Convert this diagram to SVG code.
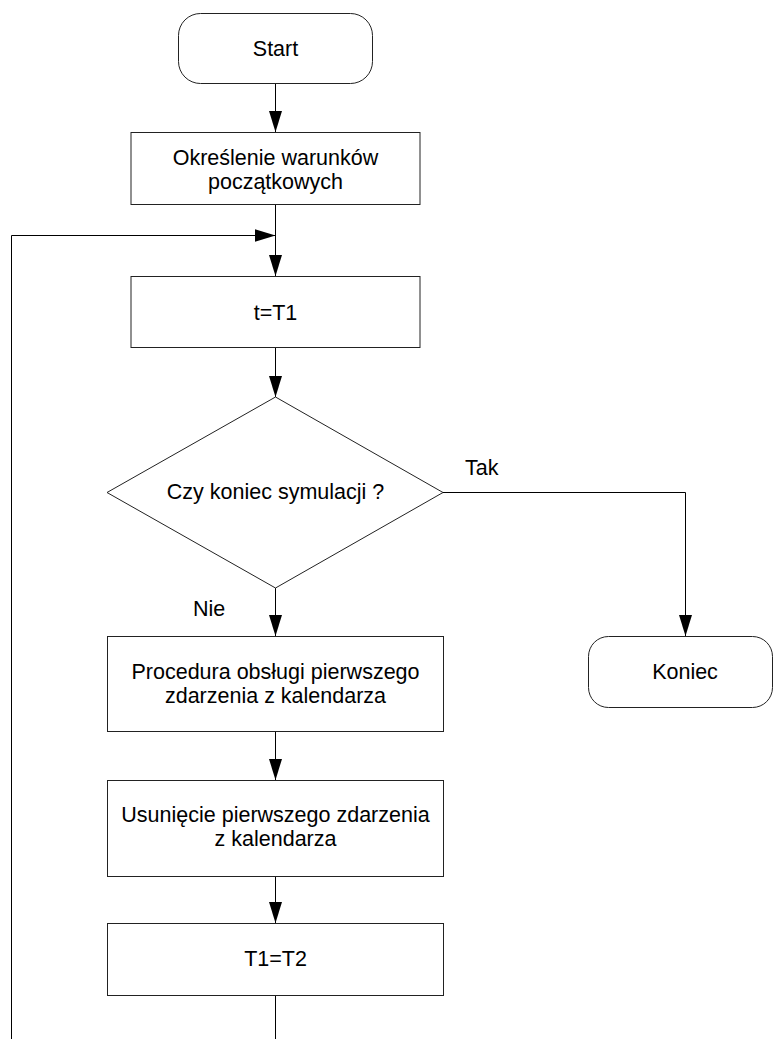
<svg xmlns="http://www.w3.org/2000/svg" width="774" height="1039" viewBox="0 0 774 1039">
<style>
.n{fill:#fff;stroke:#222;stroke-width:1}
.t{font-family:"Liberation Sans",Arial,sans-serif;font-size:21.5px;fill:#000;text-anchor:middle}
.l{font-family:"Liberation Sans",Arial,sans-serif;font-size:21.5px;fill:#000}
.c{fill:none;stroke:#000;stroke-width:1}
</style>
<defs>
<marker id="ah" viewBox="0 0 21 13" refX="21" refY="6.5" markerWidth="21" markerHeight="13" markerUnits="userSpaceOnUse" orient="auto">
<path d="M0,0 L21,6.5 L0,13 Z" fill="#000"/>
</marker>
</defs>
<rect width="774" height="1039" fill="#fff"/>
<g id="connectors">
<line class="c" x1="275.5" y1="84" x2="275.5" y2="132" marker-end="url(#ah)"/>
<line class="c" x1="275.5" y1="204" x2="275.5" y2="276" marker-end="url(#ah)"/>
<polyline class="c" points="11.5,1039 11.5,235.5 275.5,235.5" marker-end="url(#ah)"/>
<line class="c" x1="275.5" y1="348" x2="275.5" y2="397" marker-end="url(#ah)"/>
<line class="c" x1="275.5" y1="588" x2="275.5" y2="636" marker-end="url(#ah)"/>
<line class="c" x1="275.5" y1="732" x2="275.5" y2="780" marker-end="url(#ah)"/>
<line class="c" x1="275.5" y1="876" x2="275.5" y2="923" marker-end="url(#ah)"/>
<line class="c" x1="275.5" y1="996" x2="275.5" y2="1039"/>
<polyline class="c" points="443,492.5 685.5,492.5 685.5,636" marker-end="url(#ah)"/>
<text class="l" x="465" y="475">Tak</text>
<text class="l" x="193" y="616">Nie</text>
</g>
<g id="start">
<rect class="n" x="178.5" y="13.5" width="194" height="70" rx="22" ry="22"/>
<text class="t" x="275.5" y="56">Start</text>
</g>
<g id="okreslenie">
<rect class="n" x="131" y="132.5" width="289" height="72"/>
<text class="t" x="275.5" y="165">Określenie warunków</text>
<text class="t" x="275.5" y="189">początkowych</text>
</g>
<g id="t_T1">
<rect class="n" x="131" y="276.5" width="289" height="71"/>
<text class="t" x="275.5" y="320">t=T1</text>
</g>
<g id="decyzja">
<polygon class="n" points="275.5,397 443,492.5 275.5,588 107,492.5"/>
<text class="t" x="275.5" y="499">Czy koniec symulacji ?</text>
</g>
<g id="koniec">
<rect class="n" x="588.5" y="636.5" width="184" height="71" rx="20" ry="20"/>
<text class="t" x="685" y="679">Koniec</text>
</g>
<g id="procedura">
<rect class="n" x="107.5" y="636.5" width="336" height="95"/>
<text class="t" x="275.5" y="679">Procedura obsługi pierwszego</text>
<text class="t" x="275.5" y="703">zdarzenia z kalendarza</text>
</g>
<g id="usuniecie">
<rect class="n" x="107.5" y="780.5" width="336" height="96"/>
<text class="t" x="275.5" y="822">Usunięcie pierwszego zdarzenia</text>
<text class="t" x="275.5" y="846">z kalendarza</text>
</g>
<g id="T1_T2">
<rect class="n" x="107.5" y="923.5" width="336" height="72"/>
<text class="t" x="275.5" y="966">T1=T2</text>
</g>
</svg>
